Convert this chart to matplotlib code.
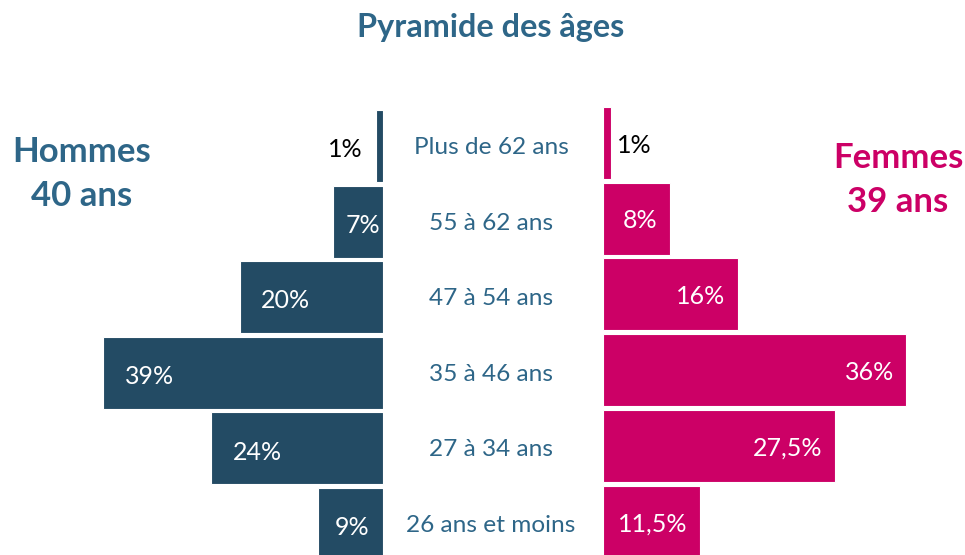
import matplotlib
matplotlib.use('Agg')
import matplotlib.pyplot as plt
import matplotlib.transforms as mtransforms

# --- data (top to bottom) ---
categories = ['Plus de 62 ans', '55 à 62 ans', '47 à 54 ans',
              '35 à 46 ans', '27 à 34 ans', '26 ans et moins']
hommes = [1, 7, 20, 39, 24, 9]
femmes = [1, 8, 16, 36, 27.5, 11.5]
titre = 'Pyramide des âges'
label_h = 'Hommes\n40 ans'
label_f = 'Femmes\n39 ans'

C_MEN = '#234B64'
C_WOMEN = '#CC0066'
C_TEXT = '#2E6688'

plt.rcParams['font.family'] = ['Lato', 'DejaVu Sans']

W, H = 965, 555
fig = plt.figure(figsize=(W / 100, H / 100), dpi=100)

def fmt(v):
    return f'{v:g}%'.replace('.', ',')

y = list(range(len(categories)))

# men: right edge at x=383px, 7.17 px per %
ax_m = fig.add_axes([0, 0, 383 / W, 1])
ax_m.set_xlim(383 / 7.17, 0)
ax_m.set_ylim((H - 146) / 75.6, -146 / 75.6)
ax_m.barh(y, hommes, height=0.95, color=C_MEN, edgecolor='white', linewidth=0.8)

# women: left edge at x=603px, 8.43 px per %
ax_f = fig.add_axes([603 / W, 0, (W - 603) / W, 1])
ax_f.set_xlim(0, (W - 603) / 8.43)
ax_f.set_ylim((H - 143) / 75.7, -143 / 75.7)
ax_f.barh(y, femmes, height=0.95, color=C_WOMEN, edgecolor='white', linewidth=0.8)

for ax in (ax_m, ax_f):
    ax.axis('off')

for i, v in enumerate(hommes):
    if v < 5:
        ax_m.text(v + 1.8, i + 0.05, fmt(v), ha='right', va='center',
                  fontsize=18, color='black')
    else:
        ax_m.text(v - min(3.0, 0.25 * v), i + 0.05, fmt(v), ha='left',
                  va='center', fontsize=18, color='white')

for i, v in enumerate(femmes):
    if v < 5:
        ax_f.text(v + 0.6, i + 0.03, fmt(v), ha='left', va='center',
                  fontsize=18, color='black')
    else:
        ax_f.text(v - 1.5, i + 0.03, fmt(v), ha='right', va='center',
                  fontsize=18, color='white')

# category labels in the middle
trans = mtransforms.blended_transform_factory(fig.transFigure, ax_m.transData)
for i, c in enumerate(categories):
    ax_m.text(491 / W, i + 0.02, c, transform=trans, ha='center', va='center',
              fontsize=17.6, color=C_TEXT, clip_on=False)

fig.text(491 / W, 1 - 28 / H, titre, ha='center', va='center',
         fontsize=23.3, fontweight='bold', color=C_TEXT)
fig.text(82 / W, 1 - 174 / H, label_h, ha='center', va='center',
         fontsize=25, fontweight='bold', color=C_TEXT, linespacing=1.45)
fig.text(898 / W, 1 - 180 / H, label_f, ha='center', va='center',
         fontsize=25, fontweight='bold', color=C_WOMEN, linespacing=1.45)

fig.savefig('out.png', dpi=100)
